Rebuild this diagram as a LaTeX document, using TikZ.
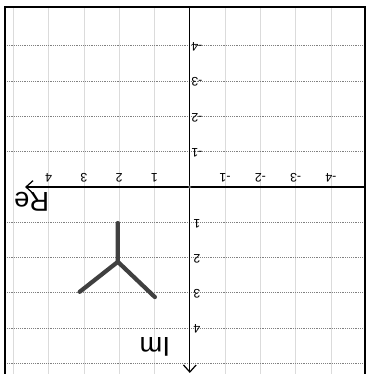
\documentclass[tikz,border=0pt]{standalone}
\usepackage{fontspec}
\setmainfont{Liberation Sans}
\usetikzlibrary{arrows.meta}

\begin{document}
\begin{tikzpicture}[
    % the sheet is upside down: Re grows to the left, Im grows downwards
    x={(-1cm,0cm)}, y={(0cm,-1cm)},
    frame/.style={draw=black, line width=1.6pt},
    gridre/.style={draw=black!14, line width=0.5pt},
    gridim/.style={draw=black!50, line width=0.6pt, dash pattern=on 0.6pt off 0.9pt},
    axis/.style={draw=black, line width=1pt,
                 -{Straight Barb[length=2mm,width=3.6mm]}},
    tick/.style={font=\fontsize{10}{11}\selectfont, rotate=180, inner sep=0pt},
    axislabel/.style={font=\fontsize{22}{24}\selectfont, rotate=180, inner sep=0pt},
    sketch/.style={draw=black!75, line width=3.4pt, line cap=round, line join=round},
  ]

  \useasboundingbox (5.38,-5.30) rectangle (-5.07,5.30);
  \clip (5.38,-5.30) rectangle (-5.07,5.30);

  % ---- grid ---------------------------------------------------------------
  \foreach \k in {-4,-3,-2,-1,1,2,3,4,5}
    \draw[gridre] (\k,-5.10) -- (\k,5.6);
  \foreach \k in {-4,-3,-2,-1,1,2,3,4,5}
    \draw[gridim] (5.24,\k) -- (-4.96,\k);

  % ---- frame --------------------------------------------------------------
  \draw[frame] (5.24,-5.10) rectangle (-4.96,5.8);

  % ---- axes ---------------------------------------------------------------
  \coordinate (origin) at (0,0);
  \coordinate (reend) at (-4.96,0);
  \coordinate (retip) at (4.67,0);
  \coordinate (imend) at (0,-5.10);
  \coordinate (imtip) at (0,5.27);
  \draw[axis] (reend) -- (retip);
  \draw[axis] (imend) -- (imtip);
  \fill[black!60] (origin) circle (1.3pt);

  \node[axislabel] (relabel) at (4.48,0.42) {Re};
  \node[axislabel] (imlabel) at (0.99,4.53) {Im};

  % tick numbers
  \foreach \k in {-4,-3,-2,-1,1,2,3,4}
    \node[tick] (re tick \k) at (\k,-0.27) {\k};
  \foreach \k in {-4,-3,-2,-1,1,2,3,4}
    \node[tick] (im tick \k) at (-0.2,\k+0.03) {\k};

  % ---- the hand-drawn sketch ---------------------------------------------
  \coordinate (stem) at (2.04,1.02);
  \coordinate (fork) at (2.04,2.12);
  \coordinate (armL) at (3.12,2.97);
  \coordinate (armR) at (0.99,3.12);
  \draw[sketch] (stem) -- (fork) -- (armL);
  \draw[sketch] (fork) -- (armR);

\end{tikzpicture}
\end{document}
